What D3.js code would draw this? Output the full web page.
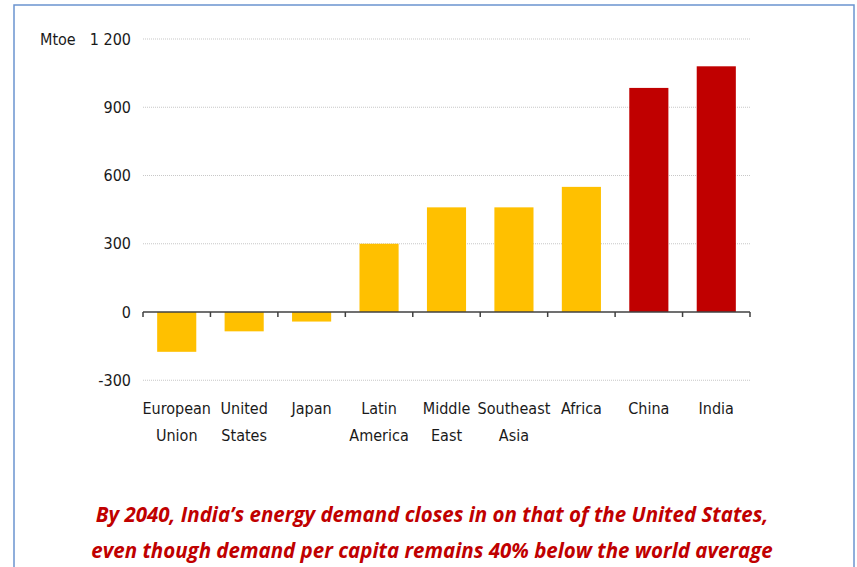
<!DOCTYPE html>
<html>
<head>
<meta charset="utf-8">
<script src="https://cdn.jsdelivr.net/npm/d3@7"></script>
<style>
  body { margin: 0; background: #fff; }
  svg { display: block; }
  .tick-label { font-family: "Liberation Sans Narrow", "DejaVu Sans Condensed", sans-serif; font-size: 16px; fill: #1a1a1a; }
  .caption { font-family: "Open Sans", "Noto Sans", sans-serif; font-weight: 700; font-style: italic; fill: #c00000; }
</style>
</head>
<body>
<svg id="chart" width="857" height="567"></svg>
<script>
var regions = [
  ['European', 'Union'], ['United', 'States'], ['Japan'], ['Latin', 'America'],
  ['Middle', 'East'], ['Southeast', 'Asia'], ['Africa'], ['China'], ['India']
];
var demandChange = [-175, -85, -42, 300, 460, 460, 550, 985, 1080];
var highlighted = [false, false, false, false, false, false, false, true, true];
var yTicks = [-300, 0, 300, 600, 900, 1200];
var yTickLabels = ['-300', '0', '300', '600', '900', '1 200'];
var unitLabel = 'Mtoe';
var captionLines = [
  'By 2040, India\u2019s energy demand closes in on that of the United States,',
  'even though demand per capita remains 40% below the world average'
];

var svg = d3.select('#chart');
var plotLeft = 143, plotRight = 750, plotTop = 39, zeroY = 312;

var y = d3.scaleLinear().domain([0, 1200]).range([zeroY, plotTop]);
var x = d3.scaleBand()
  .domain(d3.range(regions.length))
  .range([plotLeft, plotRight])
  .paddingInner(0.42)
  .paddingOuter(0.21);
var step = x.step();

// frame
svg.append('rect')
  .attr('x', 14).attr('y', 5)
  .attr('width', 840).attr('height', 600)
  .attr('fill', 'none')
  .attr('stroke', '#6b94cf')
  .attr('stroke-width', 1.5);

// gridlines
svg.append('g')
  .selectAll('line')
  .data(yTicks.filter(d => d !== 0))
  .join('line')
  .attr('x1', plotLeft).attr('x2', plotRight)
  .attr('y1', d => y(d)).attr('y2', d => y(d))
  .attr('stroke', '#c8c8c8')
  .attr('stroke-width', 1.2)
  .attr('stroke-dasharray', '1,1');

// y labels
svg.append('g')
  .selectAll('text')
  .data(yTicks)
  .join('text')
  .attr('class', 'tick-label')
  .attr('x', 131)
  .attr('y', d => y(d))
  .attr('dy', '0.35em')
  .attr('text-anchor', 'end')
  .text((d, i) => yTickLabels[i]);

svg.append('text')
  .attr('class', 'tick-label')
  .attr('x', 40)
  .attr('y', y(1200))
  .attr('dy', '0.35em')
  .text(unitLabel);

// bars
svg.append('g')
  .selectAll('rect')
  .data(demandChange)
  .join('rect')
  .attr('x', (d, i) => x(i))
  .attr('width', x.bandwidth())
  .attr('y', d => y(Math.max(0, d)))
  .attr('height', d => Math.abs(y(d) - y(0)))
  .attr('fill', (d, i) => highlighted[i] ? '#c00000' : '#ffc000');

// x axis with boundary ticks
var axis = svg.append('g');
axis.append('line')
  .attr('x1', plotLeft).attr('x2', plotRight)
  .attr('y1', zeroY).attr('y2', zeroY)
  .attr('stroke', '#404040')
  .attr('stroke-width', 1.5);
axis.selectAll('.bound')
  .data(d3.range(regions.length + 1))
  .join('line')
  .attr('class', 'bound')
  .attr('x1', i => plotLeft + i * step).attr('x2', i => plotLeft + i * step)
  .attr('y1', zeroY).attr('y2', zeroY + 5)
  .attr('stroke', '#404040')
  .attr('stroke-width', 1.5);

// category labels
var cat = svg.append('g')
  .selectAll('text')
  .data(regions)
  .join('text')
  .attr('class', 'tick-label')
  .attr('text-anchor', 'middle')
  .attr('x', (d, i) => x(i) + x.bandwidth() / 2)
  .attr('y', 408);
cat.selectAll('tspan')
  .data(d => d)
  .join('tspan')
  .attr('x', function () { return d3.select(this.parentNode).attr('x'); })
  .attr('dy', (d, i) => i === 0 ? '0.35em' : '27px')
  .text(d => d);

// caption
svg.append('g')
  .selectAll('text')
  .data(captionLines)
  .join('text')
  .attr('class', 'caption')
  .attr('x', 432)
  .attr('y', (d, i) => 515 + i * 36)
  .attr('dy', '0.35em')
  .attr('text-anchor', 'middle')
  .attr('font-size', 20.5)
  .text(d => d);
</script>
</body>
</html>
